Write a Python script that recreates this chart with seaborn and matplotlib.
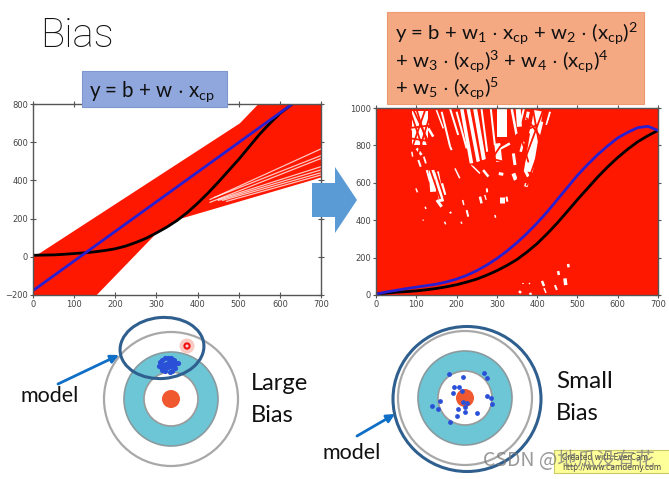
import matplotlib
matplotlib.use('Agg')
import matplotlib.pyplot as plt
from matplotlib.patches import Circle, Ellipse, Polygon, Rectangle
import seaborn as sns

W, H = 669, 479

# ---------- left plot (straight line model) ----------
L_TICKS_X = [0, 100, 200, 300, 400, 500, 600, 700]
L_TICKS_Y = [-200, 0, 200, 400, 600, 800]
L_UPPER_X = [0, 16, 503, 548, 700]
L_UPPER_Y = [5, 18, 699, 800, 800]
L_LOWER_X = [0, 155, 300, 360, 700]
L_LOWER_Y = [-200, -200, 123, 200, 415]
L_TRUE_X = [0, 25, 50, 75, 100, 125, 150, 175, 200, 225, 250, 275, 300, 325, 350, 375,
            400, 425, 450, 475, 500, 525, 550, 575, 600, 630]
L_TRUE_Y = [8, 9, 10, 13, 17, 21, 26, 33, 42, 56, 75, 97, 125, 155, 190, 232,
            280, 333, 390, 450, 510, 575, 640, 697, 750, 800]
L_AVG_X = [0, 630]
L_AVG_Y = [-177, 800]
# white gaps between the fanned out model lines
L_GAP_X0 = [430, 440, 430, 450, 450, 460, 470]
L_GAP_Y0 = [300, 310, 285, 300, 295, 295, 290]
L_GAP_Y1 = [565, 530, 515, 472, 455, 440, 428]

# ---------- right plot (5th order model) ----------
R_TICKS_X = [0, 100, 200, 300, 400, 500, 600, 700]
R_TICKS_Y = [0, 200, 400, 600, 800, 1000]
R_CURVE_X = [0, 25, 50, 75, 100, 125, 150, 175, 200, 225, 250, 275, 300, 325, 350, 375, 400,
             425, 450, 475, 500, 525, 550, 575, 600, 625, 650, 675, 700]
R_TRUE_Y = [5, 10, 15, 18, 22, 28, 35, 44, 55, 69, 85, 106, 130, 158, 190, 230, 275,
            328, 385, 447, 510, 570, 630, 685, 735, 780, 820, 852, 880]
R_AVG_Y = [5, 16, 25, 34, 42, 50, 58, 70, 85, 105, 130, 160, 195, 235, 280, 330, 385,
           445, 510, 575, 640, 697, 750, 797, 840, 870, 895, 902, 880]
R_GAP_X0 = [109, 403, 150, 312, 301, 213, 229, 246, 262, 285, 337, 353, 367, 200, 184, 163, 150,
            89, 93, 109, 109, 101, 130, 89, 105, 119, 138, 126, 163, 99, 151, 122, 184,
            170, 211, 116, 184, 196, 237, 266, 258, 312, 324, 275, 270, 225, 215, 295,
            308, 341, 374, 370, 386, 403, 423, 390, 378, 366, 304, 341,
            469, 452, 477, 412, 444, 355, 382, 365, 380, 417]
R_GAP_Y0 = [985, 985, 659, 995, 811, 995, 995, 995, 995, 995, 995, 995, 995, 980, 995, 980, 989,
            900, 971, 971, 847, 784, 891, 766, 722, 740, 668, 668, 597, 570, 508, 472, 445,
            392, 392, 404, 793, 677, 695, 668, 526, 526, 526, 570, 535, 454, 508, 428,
            784, 650, 597, 668, 766, 856, 909, 927, 980, 820, 650, 757,
            89, 128, 166, 75, 53, 21, 11, 64, 64, 37]
R_GAP_X1 = [109, 378, 163, 312, 306, 237, 254, 268, 276, 295, 349, 356, 359, 225, 204, 184, 167,
            97, 109, 130, 119, 113, 142, 91, 111, 124, 142, 134, 171, 103, 163, 124, 186,
            173, 213, 118, 188, 208, 258, 279, 262, 312, 326, 276, 273, 229, 218, 297,
            332, 347, 372, 378, 399, 411, 432, 382, 374, 359, 316, 345,
            471, 454, 478, 417, 449, 360, 385, 365, 382, 422]
R_GAP_Y1 = [802, 659, 499, 847, 713, 704, 713, 722, 766, 802, 856, 900, 927, 784, 856, 793, 891,
            856, 927, 909, 811, 749, 847, 740, 686, 704, 552, 606, 535, 549, 472, 460, 436,
            378, 381, 397, 775, 624, 650, 633, 490, 490, 499, 549, 508, 419, 481, 413,
            811, 615, 579, 633, 838, 927, 980, 864, 936, 766, 645, 695,
            53, 107, 148, 48, 27, 11, 0, 59, 59, 11]
R_GAP_LW = [16, 9, 5, 10, 6, 3.5, 3.5, 4, 2, 2, 2.5, 5, 2, 2, 2, 2, 1.5,
            3, 2.5, 2.5, 3, 2.5, 2.5, 1.5, 2, 2, 6, 2, 3, 1.5, 3, 1.5, 2,
            1.5, 1.5, 1, 2, 1.5, 1.5, 2.5, 2.5, 5, 2, 2, 1.5, 2, 1.5, 1.5,
            3, 4, 3.5, 3, 4, 3.5, 2, 2, 3, 2.5, 3, 3,
            3.5, 2.5, 2.5, 2.5, 2, 2.5, 2.5, 1.5, 1.5, 1.5]
# red model curves that cut through the white gaps
R_CUT_X0 = [84, 101, 122, 138, 93, 76, 84, 440, 415, 390, 374, 349, 353, 283, 308, 241, 283, 333, 233, 308]
R_CUT_Y0 = [989, 989, 989, 989, 989, 891, 838, 989, 989, 989, 945, 856, 891, 713, 793, 695, 731, 704, 695, 695]
R_CUT_X1 = [159, 175, 89, 101, 134, 142, 142, 374, 349, 407, 423, 399, 378, 308, 357, 283, 333, 357, 275, 283]
R_CUT_Y1 = [517, 481, 784, 731, 802, 909, 820, 588, 606, 784, 802, 909, 713, 793, 856, 731, 704, 642, 481, 499]

# ---------- targets, in picture pixels ----------
LARGE_DOTS_X = [160, 162, 165, 168, 171, 174, 172, 169, 166, 163, 161, 165,
                168, 171, 174, 176, 178, 175, 172, 170, 165, 162, 159]
LARGE_DOTS_Y = [362, 360, 358, 358, 358, 360, 363, 362, 364, 365, 367, 368,
                367, 366, 365, 363, 363, 368, 371, 372, 371, 370, 366]
SMALL_DOTS_X = [449, 463, 484, 487, 454, 459, 453, 462, 487, 491, 492,
                440, 432, 438, 463, 467, 465, 458, 465, 477, 457, 450]
SMALL_DOTS_Y = [374, 377, 373, 378, 387, 387, 393, 391, 396, 398, 404,
                401, 406, 409, 402, 403, 407, 409, 412, 413, 416, 422]

RED = '#FF1800'
SANS = 'Lato'

sns.set_theme(style='ticks')
plt.rcParams['font.family'] = SANS
plt.rcParams['mathtext.default'] = 'regular'


def add_axes_px(fig, left, top, right, bottom, **kw):
    return fig.add_axes([left / W, 1 - bottom / H, (right - left) / W, (bottom - top) / H], **kw)


def style_axes(ax, xticks, yticks):
    ax.set_xlim(xticks[0], xticks[-1])
    ax.set_ylim(yticks[0], yticks[-1])
    ax.set_xticks(xticks)
    ax.set_yticks(yticks)
    ax.set_xlabel('')
    ax.set_ylabel('')
    ax.tick_params(direction='inout', length=4, width=0.8, color='#555555', labelcolor='#444444',
                   labelsize=6, pad=1.5, top=True, right=True,
                   labelfontfamily='DejaVu Sans')
    for s in ax.spines.values():
        s.set_color('#555555')
        s.set_linewidth(1.0)


fig = plt.figure(figsize=(W / 100, H / 100), dpi=100, facecolor='white')

# left plot
ax1 = add_axes_px(fig, 33, 104, 321, 295)
ax1.fill(L_UPPER_X + L_LOWER_X[::-1], L_UPPER_Y + L_LOWER_Y[::-1], color=RED, lw=0)
for x0, y0, y1 in zip(L_GAP_X0, L_GAP_Y0, L_GAP_Y1):
    ax1.plot([x0, 700], [y0, y1], color='white', lw=0.9, alpha=0.75)
sns.lineplot(x=L_TRUE_X, y=L_TRUE_Y, ax=ax1, color='black', lw=2)
sns.lineplot(x=L_AVG_X, y=L_AVG_Y, ax=ax1, color='#2A1FD0', lw=2)
style_axes(ax1, L_TICKS_X, L_TICKS_Y)

# right plot
ax2 = add_axes_px(fig, 376, 108, 658, 295)
ax2.fill_between([R_TICKS_X[0], R_TICKS_X[-1]], R_TICKS_Y[0], R_TICKS_Y[-1], color=RED, lw=0)
for x0, y0, x1, y1, lw in zip(R_GAP_X0, R_GAP_Y0, R_GAP_X1, R_GAP_Y1, R_GAP_LW):
    ax2.plot([x0, x1], [y0, y1], color='white', lw=lw * 0.72, solid_capstyle='butt')
for x0, y0, x1, y1 in zip(R_CUT_X0, R_CUT_Y0, R_CUT_X1, R_CUT_Y1):
    ax2.plot([x0, x1], [y0, y1], color=RED, lw=1.3)
sns.lineplot(x=R_CURVE_X, y=R_TRUE_Y, ax=ax2, color='black', lw=2)
sns.lineplot(x=R_CURVE_X, y=R_AVG_Y, ax=ax2, color='#2A1FD0', lw=2)
style_axes(ax2, R_TICKS_X, R_TICKS_Y)

# everything else sits on a layer measured in picture pixels
top = add_axes_px(fig, 0, 0, W, H, facecolor='none')
top.set_xlim(0, W)
top.set_ylim(H, 0)
top.axis('off')

top.text(40, 47, 'Bias', fontsize=29, family='Roboto', weight='light', color='#111111', va='baseline')

top.add_patch(Rectangle((82, 71), 145, 36, fc='#8FA7DD', ec='#7F97D0', lw=0.8))
top.text(89, 97, r'y = b + w $\cdot$ x$_{cp}$', fontsize=14.8, color='#111111', va='baseline')

top.add_patch(Rectangle((387, 12), 257, 92, fc='#F5A983', ec='#EE9A70', lw=0.8))
top.text(395, 40, r'y = b + w$_1$ $\cdot$ x$_{cp}$ + w$_2$ $\cdot$ (x$_{cp}$)$^2$',
         fontsize=14.7, color='#111111', va='baseline')
top.text(395, 68, r'+ w$_3$ $\cdot$ (x$_{cp}$)$^3$ + w$_4$ $\cdot$ (x$_{cp}$)$^4$',
         fontsize=14.7, color='#111111', va='baseline')
top.text(395, 95, r'+ w$_5$ $\cdot$ (x$_{cp}$)$^5$', fontsize=14.7, color='#111111', va='baseline')

top.add_patch(Polygon([(312, 183), (335, 183), (335, 167), (357, 200), (335, 233), (335, 217), (312, 217)],
                      fc='#5B9BD5', ec='none'))


def target(cx, cy):
    top.add_patch(Circle((cx, cy), 67, fc='white', ec='#A8A8A8', lw=1.6))
    top.add_patch(Circle((cx, cy), 47, fc='#6CC6D6', ec='#8A9A9E', lw=1.2))
    top.add_patch(Circle((cx, cy), 27, fc='white', ec='#9A9A9A', lw=1.2))
    top.add_patch(Circle((cx, cy), 9, fc='#F0582F', ec='none'))


target(171, 399)
target(465, 398)

# left target extras
top.add_patch(Circle((187, 346), 7.5, fc='#F9C9C2', ec='none', zorder=3))
top.add_patch(Circle((187, 346), 2.6, fc='#FFD0D0', ec='#F01010', lw=1.5, zorder=3))
sns.scatterplot(x=LARGE_DOTS_X, y=LARGE_DOTS_Y, ax=top, color='#2B50D8', s=14, linewidth=0, zorder=4)
top.add_patch(Ellipse((162, 348), 84, 61, angle=-5, fc='none', ec='#2F5F8F', lw=2.2, zorder=5))
top.annotate('', xy=(119, 355), xytext=(58, 384),
             arrowprops=dict(arrowstyle='-|>', color='#0F6FC6', lw=2, shrinkA=0, shrinkB=0))
top.text(50, 396, 'model', fontsize=15.5, color='#111111', ha='center', va='center')
top.text(251, 384, 'Large', fontsize=17, color='#111111', va='center')
top.text(251, 416, 'Bias', fontsize=17, color='#111111', va='center')

# right target extras
sns.scatterplot(x=SMALL_DOTS_X, y=SMALL_DOTS_Y, ax=top, color='#2B50D8', s=12, linewidth=0, zorder=4)
top.add_patch(Ellipse((467, 399), 148, 145, fc='none', ec='#2F5F8F', lw=2.2, zorder=5))
top.annotate('', xy=(395, 414), xytext=(357, 436),
             arrowprops=dict(arrowstyle='-|>', color='#0F6FC6', lw=2, shrinkA=0, shrinkB=0))
top.text(352, 453, 'model', fontsize=15.5, color='#111111', ha='center', va='center')
top.text(556, 381, 'Small', fontsize=17.5, color='#111111', va='center')
top.text(556, 414, 'Bias', fontsize=17, color='#111111', va='center')

# screen recorder stamp and the site watermark
top.add_patch(Rectangle((554, 450), 120, 23, fc='#FFFF99', ec='#C9C96A', lw=0.8, zorder=6))
top.text(562, 457, 'Created with EverCam.', fontsize=5.5, color='#444444', va='center', zorder=7,
         family='DejaVu Sans')
top.text(562, 468, 'http://www.camdemy.com', fontsize=5.5, color='#444444', va='center', zorder=7,
         family='DejaVu Sans')
top.text(483, 460, 'CSDN @地瓜没有花', fontsize=14, color='#777777', alpha=0.75, va='center', zorder=8,
         family=['Noto Sans CJK SC', 'DejaVu Sans'])

fig.savefig('out.png', dpi=100)
plt.close(fig)
